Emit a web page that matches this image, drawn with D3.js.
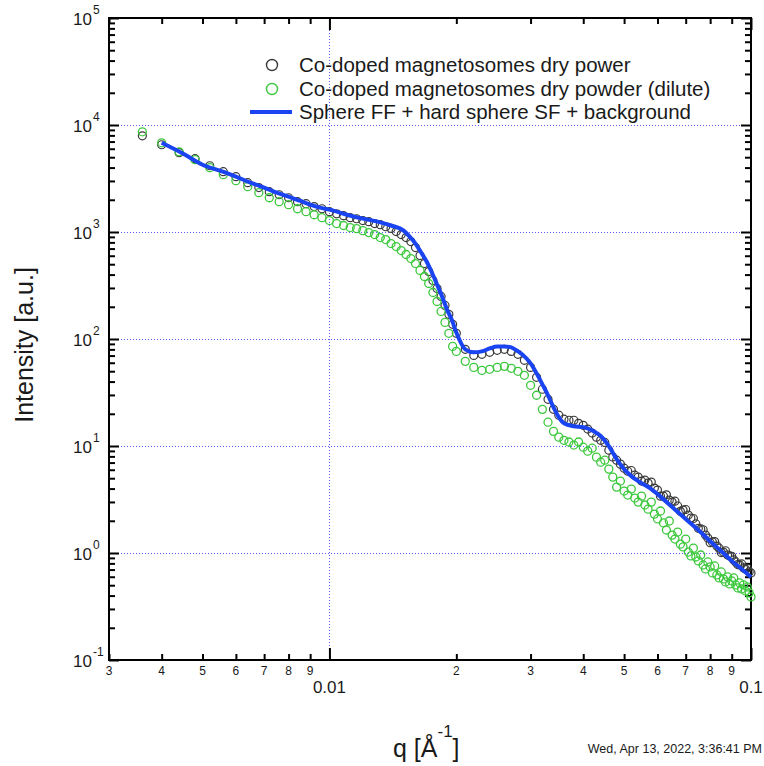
<!DOCTYPE html>
<html><head><meta charset="utf-8">
<script src="https://cdn.jsdelivr.net/npm/d3@7"></script>
<style>body{margin:0;background:#fff}svg{display:block}text{font-family:"Liberation Sans",Arial,sans-serif;fill:#1a1a1a}</style>
</head><body><svg id="c" width="764" height="766"></svg>
<script>
// ---------- data ----------
const qGrid = [0.0036,0.0040,0.0044,0.0048,0.0052,0.0056,0.0060,0.0064,0.0068,0.0072,0.0076,0.0080,0.0084,0.0088,0.0092,0.0096,0.0100,0.0104,0.0108,0.0112,0.0116,0.0120,0.0124,0.0128,0.0132,0.0136,0.0140,0.0144,0.0148,0.0152,0.0156,0.0160,0.0164,0.0168,0.0172,0.0176,0.0180,0.0184,0.0188,0.0192,0.0196,0.0200,
0.021,0.022,0.023,0.024,0.025,0.026,0.027,0.028,0.029,0.030,0.031,0.032,0.033,0.034,0.035,0.036,0.037,0.038,0.039,0.040,0.041,0.042,0.043,0.044,0.045,0.046,0.047,0.048,0.049,0.050,0.051,0.052,0.053,0.054,0.055,0.056,0.057,0.058,0.059,0.060,0.061,0.062,0.063,0.064,0.065,0.066,0.067,0.068,0.069,0.070,0.071,0.072,0.073,0.074,0.075,0.076,0.077,0.078,0.079,0.080,0.081,0.082,0.083,0.084,0.085,0.086,0.087,0.088,0.089,0.090,0.091,0.092,0.093,0.094,0.095,0.096,0.097,0.098,0.099,0.100];
const dryPowder = [7930,6540,5510,4840,4160,3660,3290,2890,2600,2380,2230,2090,1920,1840,1730,1650,1550,1480,1420,1360,1330,1280,1250,1200,1170,1120,1080,1010,946,887,814,715,602,507,427,352,297,250,206,170,137,113,
80.0,70.3,71.9,75.0,78.3,80.0,76.6,71.9,63.2,54.3,43.8,33.9,27.3,22.0,19.4,17.8,17.4,17.4,16.3,15.6,14.4,13.2,12.1,11.3,10.8,9.14,7.9,7.37,6.77,6.21,5.82,5.9,5.34,5.12,4.7,4.80,4.50,4.6,4.04,3.87,3.4,3.40,3.5,3.12,2.99,3.05,2.75,2.45,2.52,2.55,2.26,2.12,2.1,1.87,1.70,1.68,1.65,1.47,1.38,1.25,1.27,1.28,1.16,1.11,1.01,1.02,1.05,0.958,0.938,0.93,0.861,0.825,0.78,0.773,0.79,0.725,0.710,0.72,0.665,0.651];
const dilutePowder = [8640,6820,5620,4740,3990,3430,3020,2650,2330,2090,1920,1800,1650,1550,1450,1360,1280,1200,1150,1100,1076,1030,987,946,887,850,780,731,671,616,565,507,437,384,330,272,224,181,143,113,85.3,76.6,
61.8,54.3,50.9,52.1,54.3,55.5,53.2,49.9,45.8,36.9,29.8,22.0,16.7,13.7,12.1,11.3,10.9,10.2,10.9,9.75,8.95,9.54,7.87,7.06,7.37,6.08,5.12,4.13,4.70,3.79,3.48,3.96,3.26,2.99,3.40,2.81,2.57,2.99,2.31,2.08,2.47,1.91,1.64,1.99,1.47,1.35,1.57,1.21,1.14,1.35,1.02,0.938,1.11,0.918,0.843,0.958,0.773,0.710,0.825,0.741,0.651,0.757,0.624,0.585,0.665,0.573,0.537,0.597,0.514,0.548,0.585,0.503,0.472,0.525,0.462,0.503,0.442,0.482,0.424,0.389];
const fitQ = [0.004,0.0045,0.005,0.0055,0.006,0.0065,0.007,0.0075,0.008,0.0085,0.009,0.0095,0.01,0.011,0.012,0.013,0.014,0.015,0.0155,0.016,0.0165,0.017,0.0175,0.018,0.0185,0.019,0.0195,0.02,0.021,0.022,0.023,0.024,0.025,0.026,0.027,0.028,0.029,0.030,0.031,0.032,0.033,0.034,0.035,0.036,0.038,0.040,0.042,0.044,0.046,0.048,0.050,0.052,0.054,0.056,0.058,0.060,0.065,0.070,0.075,0.080,0.085,0.090,0.095,0.100];
const fitI = [6820,5390,4250,3740,3290,2890,2600,2330,2140,1960,1800,1690,1620,1450,1334,1250,1150,1030,906,780,643,530,418,323,250,189,152,115,80.0,75.0,76.6,81.7,85.3,85.3,83.5,76.6,68.8,59.2,47.8,37.7,29.8,23.0,18.6,16.3,15.3,15.0,14.0,12.4,9.96,7.53,6.08,5.23,4.70,4.31,3.96,3.55,2.69,2.08,1.64,1.29,1.04,0.843,0.710,0.597];
const seriesNames = ["Co-doped magnetosomes dry power","Co-doped magnetosomes dry powder (dilute)","Sphere FF + hard sphere SF + background"];
const xMinorTicks = [0.003,0.004,0.005,0.006,0.007,0.008,0.009,0.02,0.03,0.04,0.05,0.06,0.07,0.08,0.09];
const xMinorLabels = ["3","4","5","6","7","8","9","2","3","4","5","6","7","8","9"];
const xMajorTicks = [0.01,0.1];
const xMajorLabels = ["0.01","0.1"];
const yMajorTicks = [0.1,1,10,100,1000,10000,100000];
const yExpLabels = ["-1","0","1","2","3","4","5"];
const timestamp = "Wed, Apr 13, 2022, 3:36:41 PM";

// ---------- layout ----------
const L=109,R=751,T=18,B=660;
const x=d3.scaleLog().domain([0.003,0.1]).range([L,R]);
const y=d3.scaleLog().domain([0.1,1e5]).range([B,T]);
const svg=d3.select("#c");
svg.append("rect").attr("width",764).attr("height",766).attr("fill","#fff");

const yMinorTicks=[];
yMajorTicks.slice(0,-1).forEach(d=>{for(let k=2;k<=9;k++) yMinorTicks.push(d*k);});

// grid
const grid=svg.append("g").attr("stroke","#5a5aff").attr("stroke-width",1)
  .attr("stroke-dasharray","1,2").attr("shape-rendering","crispEdges");
grid.selectAll(".gy").data(yMajorTicks.slice(1,-1)).join("line")
  .attr("x1",L).attr("x2",R).attr("y1",d=>Math.round(y(d))+0.5).attr("y2",d=>Math.round(y(d))+0.5);
grid.selectAll(".gx").data([0.01]).join("line")
  .attr("y1",T).attr("y2",B).attr("x1",d=>Math.round(x(d))+0.5).attr("x2",d=>Math.round(x(d))+0.5);

// tick marks
function ticks(axis, tr){
  svg.append("g").attr("transform",tr).call(axis).call(g=>{
    g.select(".domain").remove();
    g.selectAll(".tick line").attr("stroke","#000").attr("stroke-width",2);
    g.selectAll(".tick text").remove();
  });
}
ticks(d3.axisBottom(x).tickValues(xMinorTicks).tickSize(-6),`translate(0,${B})`);
ticks(d3.axisBottom(x).tickValues(xMajorTicks).tickSize(-12),`translate(0,${B})`);
ticks(d3.axisTop(x).tickValues(xMinorTicks).tickSize(-6),`translate(0,${T})`);
ticks(d3.axisTop(x).tickValues(xMajorTicks).tickSize(-12),`translate(0,${T})`);
ticks(d3.axisLeft(y).tickValues(yMinorTicks).tickSize(-6),`translate(${L},0)`);
ticks(d3.axisLeft(y).tickValues(yMajorTicks).tickSize(-10),`translate(${L},0)`);
ticks(d3.axisRight(y).tickValues(yMinorTicks).tickSize(-6),`translate(${R},0)`);
ticks(d3.axisRight(y).tickValues(yMajorTicks).tickSize(-10),`translate(${R},0)`);

// frame
svg.append("rect").attr("x",L).attr("y",T).attr("width",R-L).attr("height",B-T)
  .attr("fill","none").attr("stroke","#000").attr("stroke-width",2);

// tick labels
svg.append("g").selectAll("text").data(xMinorTicks).join("text")
  .attr("x",d=>x(d)).attr("y",675).attr("text-anchor","middle").attr("font-size",12)
  .text((d,i)=>xMinorLabels[i]);
svg.append("g").selectAll("text").data(xMajorTicks).join("text")
  .attr("x",d=>x(d)).attr("y",693).attr("text-anchor","middle").attr("font-size",17)
  .text((d,i)=>xMajorLabels[i]);
const yl=svg.append("g");
yl.selectAll(".b").data(yMajorTicks).join("text").attr("class","b")
  .attr("x",92).attr("y",d=>y(d)+6.5).attr("text-anchor","end").attr("font-size",17).text("10");
yl.selectAll(".e").data(yMajorTicks).join("text").attr("class","e")
  .attr("x",93).attr("y",d=>y(d)-4).attr("text-anchor","start").attr("font-size",12)
  .text((d,i)=>yExpLabels[i]);

// data
const black=qGrid.map((q,i)=>[q,dryPowder[i]]);
const green=qGrid.map((q,i)=>[q,dilutePowder[i]]);
svg.append("g").selectAll("circle").data(black).join("circle")
  .attr("cx",d=>x(d[0])).attr("cy",d=>y(d[1])).attr("r",4)
  .attr("fill","none").attr("stroke","#3a3a3a").attr("stroke-width",1.2);
svg.append("g").selectAll("circle").data(green).join("circle")
  .attr("cx",d=>x(d[0])).attr("cy",d=>y(d[1])).attr("r",4)
  .attr("fill","none").attr("stroke","#3cc83c").attr("stroke-width",1.3);
const fit=fitQ.map((q,i)=>[q,fitI[i]]);
svg.append("path").datum(fit)
  .attr("d",d3.line().x(d=>x(d[0])).y(d=>y(d[1])).curve(d3.curveMonotoneX))
  .attr("fill","none").attr("stroke","#1a44f2").attr("stroke-width",4).attr("stroke-linejoin","round");

// legend
const lg=svg.append("g");
lg.append("circle").attr("cx",272).attr("cy",65).attr("r",5.5).attr("fill","none").attr("stroke","#3a3a3a").attr("stroke-width",1.4);
lg.append("circle").attr("cx",272).attr("cy",89).attr("r",5.5).attr("fill","none").attr("stroke","#3cc83c").attr("stroke-width",1.4);
lg.append("line").attr("x1",250).attr("x2",292).attr("y1",112).attr("y2",112).attr("stroke","#1a44f2").attr("stroke-width",4);
lg.selectAll("text").data(seriesNames).join("text")
  .attr("x",299).attr("y",(d,i)=>72+i*23.5).attr("font-size",20.5).text(d=>d);

// axis titles
svg.append("text").attr("transform","translate(33,345) rotate(-90)").attr("text-anchor","middle")
  .attr("font-size",25).text("Intensity [a.u.]");
const xt=svg.append("text").attr("x",393).attr("y",757).attr("font-size",25);
xt.append("tspan").text("q [Å");
xt.append("tspan").attr("dy",-20).attr("font-size",17).text("-1");
xt.append("tspan").attr("dy",20).text("]");
svg.append("text").attr("x",762).attr("y",753).attr("text-anchor","end").attr("font-size",12.5).text(timestamp);
</script></body></html>
